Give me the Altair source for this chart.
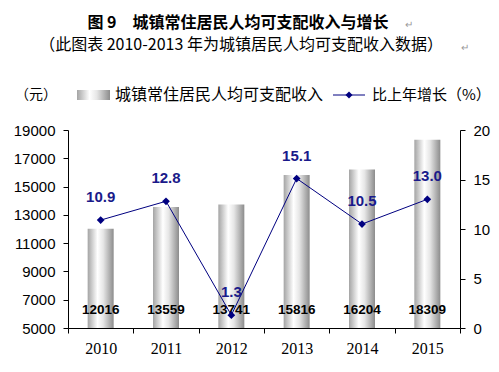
import altair as alt
import pandas as pd

years = ["2010", "2011", "2012", "2013", "2014", "2015"]
income = [12016, 13559, 13741, 15816, 16204, 18309]
growth = [10.9, 12.8, 1.3, 15.1, 10.5, 13.0]
growth_text = ["10.9", "12.8", "1.3", "15.1", "10.5", "13.0"]
left_ticks = [5000, 7000, 9000, 11000, 13000, 15000, 17000, 19000]
right_ticks = [0, 5, 10, 15, 20]

title_text = "图 9　城镇常住居民人均可支配收入与增长"
subtitle_text = "（此图表 2010-2013 年为城镇居民人均可支配收入数据）"
unit_left = "（元）"
legend_bar = "城镇常住居民人均可支配收入"
legend_line = "比上年增长（%）"

df = pd.DataFrame({"year": years, "income": income, "growth": growth, "gtext": growth_text})
one = pd.DataFrame({"k": [0]})

CJK = "Noto Sans CJK SC"
NAVY = "#000080"

bar_grad = alt.Gradient(
    gradient="linear",
    stops=[
        alt.GradientStop(color="#a4a4a4", offset=0),
        alt.GradientStop(color="#ffffff", offset=0.38),
        alt.GradientStop(color="#e6e6e6", offset=0.6),
        alt.GradientStop(color="#8c8c8c", offset=1),
    ],
    x1=0, x2=1, y1=0, y2=0,
)

xenc = alt.X(
    "year:N",
    scale=alt.Scale(paddingInner=0, paddingOuter=0),
    axis=alt.Axis(
        title=None, labelAngle=0, tickBand="extent", labelFont="Liberation Serif",
        labelFontSize=16, labelColor="#000", labelPadding=7, tickSize=5,
        domainColor="#000", tickColor="#000",
    ),
)

base = alt.Chart(df)

bars = base.mark_bar(size=26, color=bar_grad).encode(
    x=xenc,
    y=alt.Y(
        "income:Q",
        scale=alt.Scale(domain=[5000, 19000], zero=False, nice=False),
        axis=alt.Axis(
            title=None, values=left_ticks, format="d", grid=False, orient="left",
            labelFont="Liberation Sans", labelFontSize=15, labelColor="#000",
            labelPadding=8, tickSize=5, domainColor="#000", tickColor="#000",
        ),
    ),
    y2=alt.datum(5000),
)

inc_text = base.mark_text(
    font="Liberation Sans", fontSize=13.5, fontWeight="bold", color="#000", baseline="middle"
).encode(x=xenc, y=alt.value(180), text=alt.Text("income:Q", format="d"))

left = alt.layer(bars, inc_text)

yr = alt.Y(
    "growth:Q",
    scale=alt.Scale(domain=[0, 20], nice=False),
    axis=alt.Axis(
        title=None, values=right_ticks, grid=False, orient="right",
        labelFont="Liberation Sans", labelFontSize=15, labelColor="#000",
        labelPadding=8, tickSize=5, domainColor="#000", tickColor="#000",
    ),
)

line = base.mark_line(color=NAVY, strokeWidth=1).encode(x=xenc, y=yr)
pts = base.mark_point(shape="diamond", filled=True, size=60, color=NAVY, opacity=1).encode(x=xenc, y=yr)
gtext = base.mark_text(
    font="Liberation Sans", fontSize=15, fontWeight="bold", color="#1a1a8a", dy=-23, baseline="middle"
).encode(x=xenc, y=yr, text="gtext:N")

right = alt.layer(line, pts, gtext)

def txt(s, x, y, size, align="center", weight="normal", color="#000", font=CJK):
    return alt.Chart(one).mark_text(
        text=s, font=font, fontSize=size, fontWeight=weight, color=color,
        align=align, baseline="middle",
    ).encode(x=alt.value(x), y=alt.value(y))

decor = [
    txt(title_text, 170, -107, 16, weight="bold"),
    txt("↵", 337, -105, 10, align="left", color="#999"),
    txt(subtitle_text, 173, -85, 16),
    txt("↵", 393, -82, 10, align="left", color="#999"),
    txt(unit_left, -32, -35, 14),
    alt.Chart(one).mark_rect(color=bar_grad).encode(
        x=alt.value(9), x2=alt.value(42), y=alt.value(-40), y2=alt.value(-30)
    ),
    txt(legend_bar, 47, -35, 16, align="left"),
    alt.Chart(one).mark_rule(color=NAVY, strokeWidth=1).encode(
        x=alt.value(265), x2=alt.value(297), y=alt.value(-35)
    ),
    alt.Chart(one).mark_point(shape="diamond", filled=True, size=50, color=NAVY, opacity=1).encode(
        x=alt.value(281), y=alt.value(-35)
    ),
    txt(legend_line, 304, -35, 15, align="left"),
]

chart = alt.layer(left, right, *decor).resolve_scale(y="independent").properties(
    width=392, height=198,
    autosize=alt.AutoSizeParams(type="none"),
    padding={"left": 60, "top": 122, "right": 31, "bottom": 36},
    background="white",
).configure_view(stroke=None)

chart.save("out.html", embed_options={"renderer": "svg", "actions": False})
